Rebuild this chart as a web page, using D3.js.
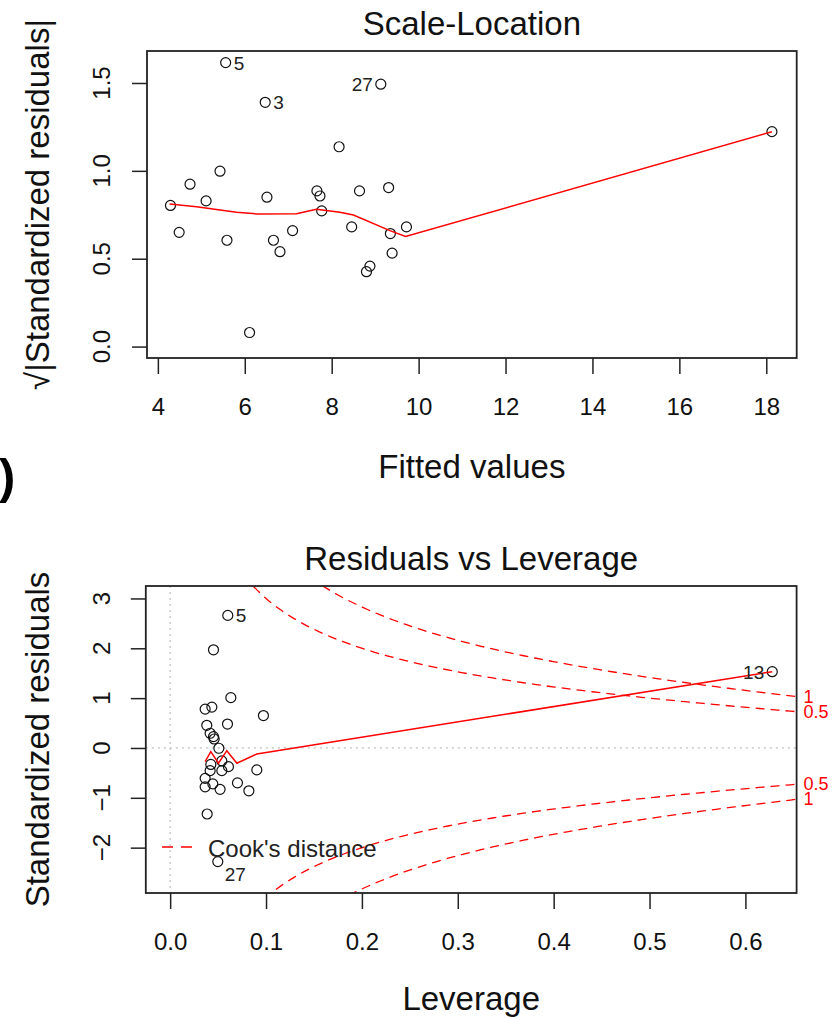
<!DOCTYPE html>
<html>
<head>
<meta charset="utf-8">
<script src="https://cdn.jsdelivr.net/npm/d3@7/dist/d3.min.js"></script>
<style>
  body { margin: 0; background: #fff; }
  svg { font-family: "Liberation Sans", Arial, sans-serif; }
</style>
</head>
<body>
<svg id="chart" width="838" height="1018"></svg>
<script>
// --- Scale-Location panel data ---
const fittedValues = [5.56, 6.47, 9.13, 8.17, 5.43, 4.74, 5.11, 4.29, 6.51, 7.66, 7.73, 7.77, 8.64, 9.31,
  4.49, 5.59, 6.66, 6.81, 7.10, 8.46, 9.72, 9.35, 9.39, 8.88, 8.80, 6.11, 18.13];
const sqrtAbsStdResid = [1.616, 1.39, 1.493, 1.137, 0.998, 0.924, 0.829, 0.803, 0.85, 0.886, 0.857, 0.772, 0.886, 0.905,
  0.650, 0.605, 0.605, 0.540, 0.66, 0.681, 0.681, 0.643, 0.532, 0.458, 0.426, 0.080, 1.223];
const slSmoothX = [4.27, 4.89, 5.81, 6.27, 7.19, 7.65, 8.19, 8.50, 9.34, 9.70, 18.13];
const slSmoothY = [0.811, 0.796, 0.764, 0.755, 0.756, 0.781, 0.764, 0.749, 0.660, 0.626, 1.223];
const slLabelIndex = [0, 1, 2];
const slLabelText = ['5', '3', '27'];
const slLabelSide = ['right', 'right', 'left'];
const slXTicks = [4, 6, 8, 10, 12, 14, 16, 18];
const slYTicks = [0.0, 0.5, 1.0, 1.5];

// --- Residuals vs Leverage panel data ---
const leverage = [0.0601, 0.0452, 0.0633, 0.0365, 0.0435, 0.0973, 0.0382, 0.0598, 0.0417, 0.0452, 0.0459, 0.0508,
  0.0539, 0.0424, 0.0608, 0.0417, 0.0539, 0.0904, 0.0365, 0.0445, 0.0365, 0.0702, 0.0521, 0.0821, 0.0386, 0.0497, 0.628];
const stdResid = [2.66, 1.97, 1.01, 0.78, 0.82, 0.65, 0.455, 0.48, 0.295, 0.227, 0.18, -0.006,
  -0.26, -0.33, -0.375, -0.455, -0.455, -0.44, -0.61, -0.72, -0.78, -0.70, -0.83, -0.86, -1.325, -2.28, 1.53];
const rlSmoothX = [0.0365, 0.0424, 0.0504, 0.0591, 0.0696, 0.0904, 0.628];
const rlSmoothY = [-0.275, -0.074, -0.307, -0.054, -0.307, -0.12, 1.53];
const rlLabelIndex = [0, 25, 26];
const rlLabelText = ['5', '27', '13'];
const rlLabelSide = ['right', 'below', 'left'];
const rlXTicks = [0.0, 0.1, 0.2, 0.3, 0.4, 0.5, 0.6];
const rlYTicks = [-2, -1, 0, 1, 2, 3];
const cookLevels = [0.5, 1];
const nParams = 2;

const svg = d3.select('#chart');
const boxColor = '#222';

function drawPanel(cfg) {
  const g = svg.append('g');
  const x = d3.scaleLinear().domain(cfg.xDomain).range([cfg.left, cfg.right]);
  const y = d3.scaleLinear().domain(cfg.yDomain).range([cfg.bottom, cfg.top]);

  const clipId = 'clip-' + cfg.id;
  svg.append('clipPath').attr('id', clipId)
    .append('rect')
    .attr('x', cfg.left).attr('y', cfg.top)
    .attr('width', cfg.right - cfg.left).attr('height', cfg.bottom - cfg.top);

  // axes (R style: outward ticks, labels under)
  const xAxis = g.append('g')
    .attr('transform', `translate(0,${cfg.bottom})`)
    .call(d3.axisBottom(x).tickValues(cfg.xTicks).tickSize(16).tickPadding(24).tickFormat(cfg.xFmt));
  xAxis.select('.domain').remove();
  xAxis.selectAll('line').attr('stroke', boxColor).attr('stroke-width', 1.5);
  xAxis.selectAll('text').attr('font-size', 24).attr('fill', '#111')
    .attr('font-family', '"Liberation Sans", Arial, sans-serif');

  const yAxis = g.append('g')
    .attr('transform', `translate(${cfg.left},0)`)
    .call(d3.axisLeft(y).tickValues(cfg.yTicks).tickSize(15).tickFormat(''));
  yAxis.select('.domain').remove();
  yAxis.selectAll('line').attr('stroke', boxColor).attr('stroke-width', 1.5);
  g.selectAll('.ytl').data(cfg.yTicks).enter().append('text')
    .attr('transform', d => `translate(110,${y(d)}) rotate(-90)`)
    .attr('text-anchor', 'middle')
    .attr('font-size', 24).attr('fill', '#111')
    .text(cfg.yFmt);

  // guide lines
  if (cfg.guides) {
    g.append('line').attr('x1', x(0)).attr('x2', x(0)).attr('y1', cfg.top).attr('y2', cfg.bottom)
      .attr('stroke', '#bdbdbd').attr('stroke-width', 1.2).attr('stroke-dasharray', '2,4');
    g.append('line').attr('x1', cfg.left).attr('x2', cfg.right).attr('y1', y(0)).attr('y2', y(0))
      .attr('stroke', '#bdbdbd').attr('stroke-width', 1.2).attr('stroke-dasharray', '2,4');
  }

  // points
  g.selectAll('.pt').data(cfg.xs).enter().append('circle')
    .attr('cx', d => x(d))
    .attr('cy', (d, i) => y(cfg.ys[i]))
    .attr('r', 5)
    .attr('fill', 'none').attr('stroke', '#111').attr('stroke-width', 1.2);

  // smoother
  const smooth = cfg.smoothX.map((d, i) => [d, cfg.smoothY[i]]);
  g.append('path').datum(smooth)
    .attr('clip-path', `url(#${clipId})`)
    .attr('fill', 'none').attr('stroke', 'red').attr('stroke-width', 1.5)
    .attr('d', d3.line().x(d => x(d[0])).y(d => y(d[1])));

  if (cfg.extra) cfg.extra(g, x, y, clipId);

  // point labels
  cfg.labelIndex.forEach((idx, k) => {
    const px = x(cfg.xs[idx]), py = y(cfg.ys[idx]);
    const side = cfg.labelSide[k];
    const t = g.append('text').attr('font-size', 19).attr('fill', '#222').text(cfg.labelText[k]);
    if (side === 'right') t.attr('x', px + 8).attr('y', py + 7).attr('text-anchor', 'start');
    else if (side === 'left') t.attr('x', px - 8).attr('y', py + 7).attr('text-anchor', 'end');
    else t.attr('x', px + 7).attr('y', py + 19).attr('text-anchor', 'start');
  });

  // box
  g.append('rect').attr('x', cfg.left).attr('y', cfg.top)
    .attr('width', cfg.right - cfg.left).attr('height', cfg.bottom - cfg.top)
    .attr('fill', 'none').attr('stroke', boxColor).attr('stroke-width', 1.8);

  // titles
  const cx = (cfg.left + cfg.right) / 2;
  g.append('text').attr('x', cx).attr('y', cfg.top - 16).attr('text-anchor', 'middle')
    .attr('font-size', 33).attr('fill', '#111').text(cfg.title);
  g.append('text').attr('x', cx).attr('y', cfg.bottom + cfg.xLabelGap).attr('text-anchor', 'middle')
    .attr('font-size', 33).attr('fill', '#111').text(cfg.xLabel);
  g.append('text')
    .attr('transform', `translate(49,${(cfg.top + cfg.bottom) / 2}) rotate(-90)`)
    .attr('text-anchor', 'middle')
    .attr('font-size', 33).attr('fill', '#111').text(cfg.yLabel);
}

drawPanel({
  id: 'sl', left: 147, right: 796.7, top: 51, bottom: 358,
  xDomain: [3.75, 18.7], yDomain: [-0.065, 1.682],
  xTicks: slXTicks, yTicks: slYTicks,
  xFmt: d3.format('d'), yFmt: d3.format('.1f'),
  xs: fittedValues, ys: sqrtAbsStdResid,
  smoothX: slSmoothX, smoothY: slSmoothY,
  labelIndex: slLabelIndex, labelText: slLabelText, labelSide: slLabelSide,
  title: 'Scale-Location', xLabel: 'Fitted values', xLabelGap: 120,
  yLabel: '\u221A|Standardized residuals|'
});

drawPanel({
  id: 'rl', left: 145.8, right: 796.6, top: 586, bottom: 893,
  xDomain: [-0.0254, 0.6534], yDomain: [-2.91, 3.25],
  xTicks: rlXTicks, yTicks: rlYTicks,
  xFmt: d3.format('.1f'), yFmt: d3.format('d'),
  xs: leverage, ys: stdResid, guides: true,
  smoothX: rlSmoothX, smoothY: rlSmoothY,
  labelIndex: rlLabelIndex, labelText: rlLabelText, labelSide: rlLabelSide,
  title: 'Residuals vs Leverage', xLabel: 'Leverage', xLabelGap: 117,
  yLabel: 'Standardized residuals',
  extra: (g, x, y, clipId) => {
    // Cook's distance contours
    const hMin = Math.min(d3.min(leverage), d3.max(leverage) / 100);
    const hMax = x.domain()[1];
    const hh = d3.range(101).map(i => hMin + (hMax - hMin) * i / 100);
    cookLevels.forEach(lev => {
      [1, -1].forEach(sign => {
        const pts = hh.map(h => [h, sign * Math.sqrt(lev * nParams * (1 - h) / h)]);
        g.append('path').datum(pts)
          .attr('clip-path', `url(#${clipId})`)
          .attr('fill', 'none').attr('stroke', 'red').attr('stroke-width', 1.3)
          .attr('stroke-dasharray', '9,6')
          .attr('d', d3.line().x(d => x(d[0])).y(d => y(Math.max(-50, Math.min(50, d[1])))));
        const yv = sign * Math.sqrt(lev * nParams * (1 - hMax) / hMax);
        g.append('text').attr('x', x(hMax) + 7).attr('y', y(yv) + 6)
          .attr('font-size', 18).attr('fill', 'red').text(String(lev));
      });
    });
    // legend
    g.append('line').attr('x1', 162).attr('x2', 194).attr('y1', 847).attr('y2', 847)
      .attr('stroke', 'red').attr('stroke-width', 1.3).attr('stroke-dasharray', '11,8');
    g.append('text').attr('x', 208).attr('y', 857).attr('font-size', 24).attr('fill', '#222')
      .text("Cook's distance");
  }
});

// panel letter cut off at the left edge
svg.append('text').attr('x', -1).attr('y', 493)
  .attr('font-size', 49).attr('font-weight', 'bold').attr('fill', '#000').text(')');
</script>
</body>
</html>
